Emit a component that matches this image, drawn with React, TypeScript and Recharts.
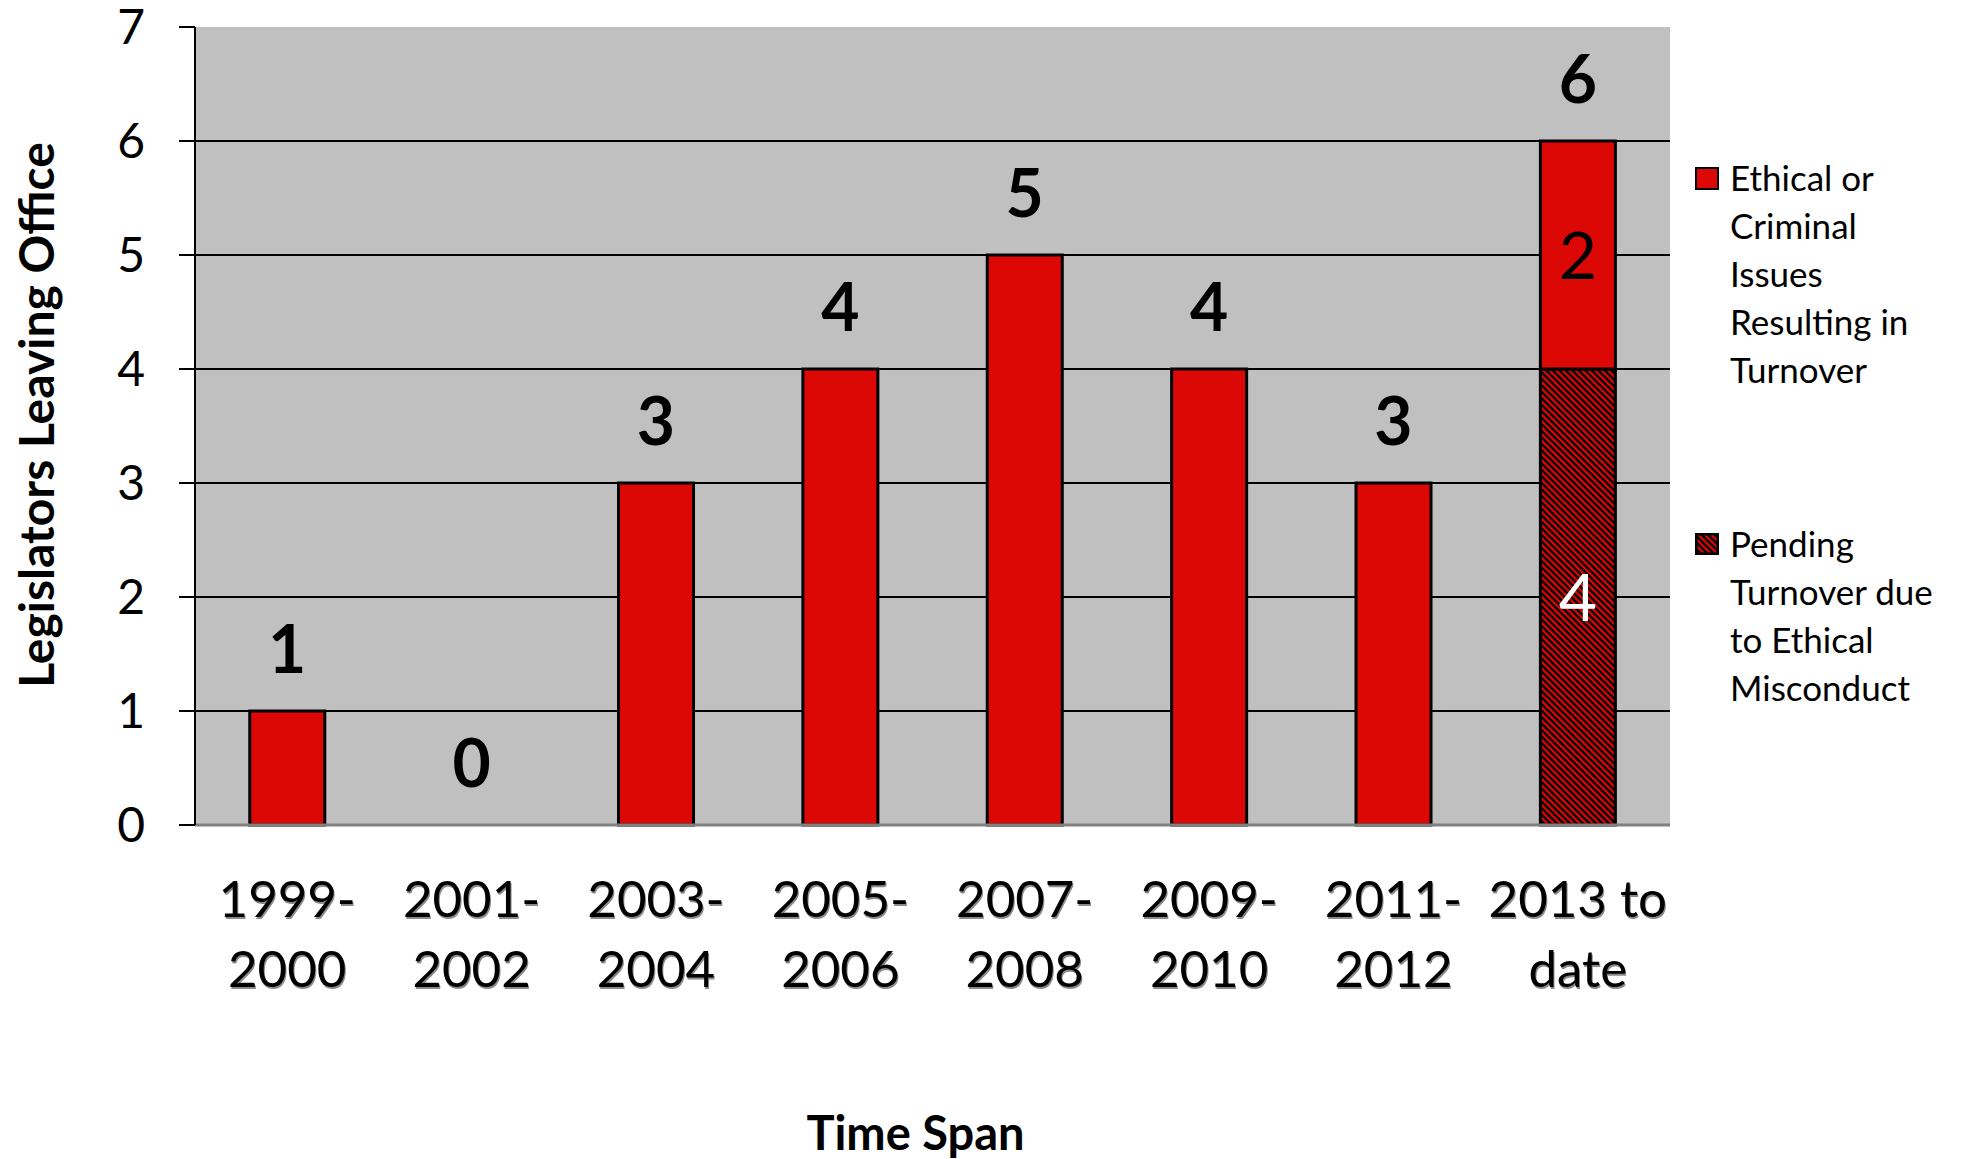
import React from 'react';
import { ComposedChart, Bar, Line, XAxis, YAxis, CartesianGrid, LabelList } from 'recharts';

const categories = ['1999-\n2000', '2001-\n2002', '2003-\n2004', '2005-\n2006', '2007-\n2008', '2009-\n2010', '2011-\n2012', '2013 to\ndate'];
const ethicalIssues = [1, 0, 3, 4, 5, 4, 3, 2];
const pendingTurnover = [0, 0, 0, 0, 0, 0, 0, 4];
const yTicks = [0, 1, 2, 3, 4, 5, 6, 7];
const gridValues = [1, 2, 3, 4, 5, 6];
const legendEthical = ['Ethical or', 'Criminal', 'Issues', 'Resulting in', 'Turnover'];
const legendPending = ['Pending', 'Turnover due', 'to Ethical', 'Misconduct'];
const yTitle = 'Legislators Leaving Office';
const xTitle = 'Time Span';

const data = categories.map((c, i) => ({
  category: c,
  ethical: ethicalIssues[i],
  pending: pendingTurnover[i],
  total: ethicalIssues[i] + pendingTurnover[i],
}));

const RED = '#DC0806';
const FONT = 'Lato, "Open Sans", sans-serif';
const W = 1953;
const H = 1151;

const XTick = (props: any) => {
  const { x, y, payload } = props;
  const lines = String(payload.value).split('\n');
  return (
    <g>
      {lines.map((ln, k) => (
        <g key={k}>
          <text x={x + 1} y={y + 94 + k * 70} textAnchor="middle" fontFamily={FONT} fontSize={51} fill="#8a8a8a">{ln}</text>
          <text x={x} y={y + 92 + k * 70} textAnchor="middle" fontFamily={FONT} fontSize={51} fill="#000">{ln}</text>
        </g>
      ))}
    </g>
  );
};

const YTick = (props: any) => {
  const { x, y, payload } = props;
  return (
    <text x={x} y={y + 17} textAnchor="end" fontFamily={FONT} fontSize={48} fill="#000">{payload.value}</text>
  );
};

const YTitle = (props: any) => {
  const vb = props.viewBox || { x: 0, y: 0, width: 0, height: 0 };
  const cx = vb.x + 46;
  const cy = vb.y + vb.height / 2 - 11;
  return (
    <text x={cx} y={cy} transform={`rotate(-90 ${cx} ${cy})`} textAnchor="middle" fontFamily={FONT} fontWeight="bold" fontSize={48} fill="#000">{yTitle}</text>
  );
};

const XTitle = (props: any) => {
  const vb = props.viewBox || { x: 0, y: 0, width: 0, height: 0 };
  return (
    <text x={vb.x + vb.width / 2 - 17} y={vb.y + 325} textAnchor="middle" fontFamily={FONT} fontWeight="bold" fontSize={47} fill="#000">{xTitle}</text>
  );
};

const TotalLabel = (props: any) => {
  const { x, y, value } = props;
  return (
    <text x={x} y={y - 38} textAnchor="middle" fontFamily={FONT} fontWeight="bold" fontSize={66} fill="#000">{value}</text>
  );
};

const rectOf = (props: any) => {
  const vb = props.viewBox || {};
  return {
    x: props.x ?? vb.x,
    y: props.y ?? vb.y,
    width: props.width ?? vb.width,
    height: props.height ?? vb.height,
  };
};

const InnerLabel = (color: string) => (props: any) => {
  const { value } = props;
  if (value === '' || value === null || value === undefined || !(Number(value) > 0)) return null;
  const r = rectOf(props);
  if (r.x === undefined || r.y === undefined) return null;
  return (
    <text x={r.x + r.width / 2} y={r.y + r.height / 2 + 24} textAnchor="middle" fontFamily={FONT} fontSize={66} fill={color}>{value}</text>
  );
};

const EthicalInner = InnerLabel('#000');
const PendingInner = InnerLabel('#fff');

export default function App() {
  return (
    <div style={{ position: 'relative', width: W, height: H }}>
      <svg width={0} height={0} style={{ position: 'absolute' }}>
        <defs>
          <pattern id="hatch" patternUnits="userSpaceOnUse" width="4.6" height="4.6" patternTransform="rotate(-45)">
            <rect x="0" y="0" width="4.6" height="4.6" fill="#000" />
            <rect x="0" y="0" width="2.3" height="4.6" fill={RED} />
          </pattern>
        </defs>
      </svg>
      <ComposedChart
        width={W}
        height={H}
        data={data}
        margin={{ top: 19, right: 291, bottom: 0, left: 0 }}
        barCategoryGap="29.7%"
        style={{ overflow: 'visible' }}
      >
        <CartesianGrid
          vertical={false}
          horizontalValues={gridValues}
          stroke="#000"
          strokeWidth={2}
          fill="#C0C0C0"
          fillOpacity={1}
        />
        <XAxis
          dataKey="category"
          height={334}
          tickSize={0}
          tickMargin={0}
          tickLine={false}
          axisLine={{ stroke: '#808080', strokeWidth: 3 }}
          tick={<XTick />}
          interval={0}
          label={<XTitle />}
        />
        <XAxis
          xAxisId="top"
          dataKey="category"
          orientation="top"
          height={0}
          tick={false}
          tickLine={false}
          axisLine={{ stroke: '#808080', strokeWidth: 3 }}
        />
        <YAxis
          width={187}
          domain={[0, 7]}
          ticks={yTicks}
          interval={0}
          tickSize={16}
          tickMargin={34}
          tickLine={{ stroke: '#000', strokeWidth: 2 }}
          axisLine={{ stroke: '#000', strokeWidth: 2 }}
          tick={<YTick />}
          label={<YTitle />}
        />
        <YAxis
          yAxisId="right"
          orientation="right"
          width={0}
          domain={[0, 7]}
          tick={false}
          tickLine={false}
          axisLine={{ stroke: '#808080', strokeWidth: 3 }}
        />
        <Bar dataKey="pending" stackId="a" fill="url(#hatch)" stroke="#000" strokeWidth={3} isAnimationActive={false}>
          <LabelList dataKey="pending" content={PendingInner} />
        </Bar>
        <Bar dataKey="ethical" stackId="a" fill={RED} stroke="#000" strokeWidth={3} isAnimationActive={false}>
          <LabelList dataKey={(d: any) => (d.pending > 0 ? d.ethical : '')} content={EthicalInner} />
        </Bar>
        <Line dataKey="total" stroke="none" dot={false} activeDot={false} legendType="none" isAnimationActive={false}>
          <LabelList dataKey="total" content={<TotalLabel />} />
        </Line>
      </ComposedChart>
      <div style={{ position: 'absolute', left: 1687, top: 159, width: 24, height: 23, boxSizing: 'border-box', border: '2.5px solid #000', background: RED }} />
      <div style={{ position: 'absolute', left: 1722, top: 145, fontFamily: FONT, fontSize: 35, lineHeight: '48px', color: '#000', whiteSpace: 'nowrap' }}>
        {legendEthical.map((t, i) => (<div key={i}>{t}</div>))}
      </div>
      <svg style={{ position: 'absolute', left: 1687, top: 525 }} width={24} height={22}>
        <rect x={0} y={0} width={24} height={22} fill="url(#hatch)" />
        <rect x={1.25} y={1.25} width={21.5} height={19.5} fill="none" stroke="#000" strokeWidth={2.5} />
      </svg>
      <div style={{ position: 'absolute', left: 1722, top: 511, fontFamily: FONT, fontSize: 35, lineHeight: '48px', color: '#000', whiteSpace: 'nowrap' }}>
        {legendPending.map((t, i) => (<div key={i}>{t}</div>))}
      </div>
    </div>
  );
}
